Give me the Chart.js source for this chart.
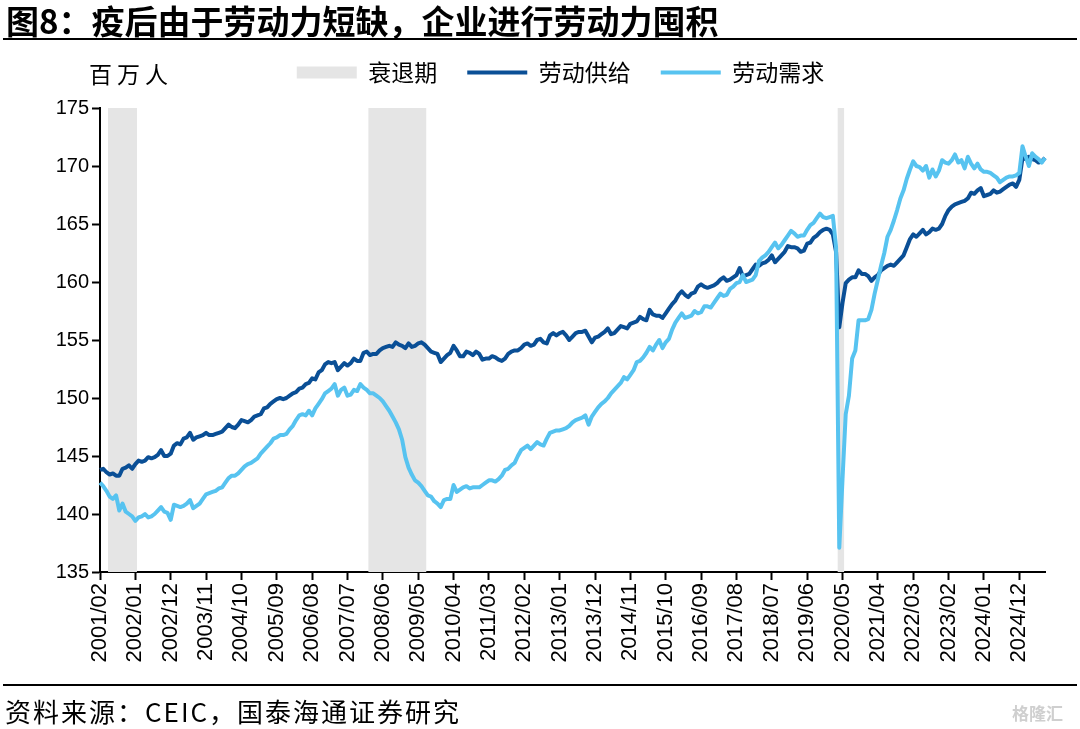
<!DOCTYPE html>
<html>
<head>
<meta charset="utf-8">
<script src="https://cdn.jsdelivr.net/npm/chart.js@4.4.1/dist/chart.umd.min.js"></script>
<style>
  html, body { margin: 0; padding: 0; background: #fff; }
  body { width: 1080px; height: 729px; position: relative; overflow: hidden; }
  #chart { position: absolute; left: 0; top: 0; }
  .title { position: absolute; left: 6px; top: 0px; font: 700 33px "Noto Sans CJK SC"; line-height: 40px; color: #000; white-space: nowrap; }
  .rule { position: absolute; left: 3px; width: 1074px; height: 2px; background: #000; }
  .unit { position: absolute; left: 89px; top: 58px; font: 23px "Noto Sans CJK SC"; letter-spacing: 5px; line-height: 30px; color: #000; }
  .source { position: absolute; left: 5px; top: 694px; font: 26px "Noto Sans CJK SC"; letter-spacing: 2px; line-height: 34px; color: #000; white-space: nowrap; }
  .mark { position: absolute; left: 1012px; top: 700px; font: 700 17px "Noto Sans CJK SC"; color: #cfcfcf; }
</style>
</head>
<body>
<canvas id="chart" width="1080" height="729"></canvas>
<div class="title">图8：疫后由于劳动力短缺，企业进行劳动力囤积</div>
<div class="rule" style="top:38px"></div>
<div class="unit">百万人</div>
<div class="rule" style="top:684px"></div>
<div class="source">资料来源：CEIC，国泰海通证券研究</div>
<div class="mark">格隆汇</div>
<script>
// 月度数据，2001/02 起
const startMonth = '2001/02';

// 劳动供给（百万人）
const supply = [
  143.8, 143.9, 143.6, 143.4, 143.5, 143.3, 143.3, 143.9, 144.0, 144.2, 143.9,
  144.3, 144.6, 144.5, 144.6, 144.9, 144.8, 144.9, 145.1, 145.5, 145.0, 145.0, 145.2,
  145.9, 146.1, 146.0, 146.5, 146.6, 147.0, 146.4, 146.6, 146.7, 146.8, 147.0, 146.8,
  146.8, 146.9, 147.0, 147.1, 147.4, 147.7, 147.5, 147.4, 147.7, 148.1, 148.0, 147.9,
  148.1, 148.4, 148.5, 148.6, 149.1, 149.2, 149.5, 149.7, 149.9, 150.0, 149.9, 150.0,
  150.2, 150.4, 150.5, 150.8, 150.9, 151.2, 151.3, 151.7, 151.6, 152.2, 152.4, 152.9,
  153.1, 153.0, 153.1, 152.4, 152.7, 153.0, 152.8, 153.0, 153.4, 153.2, 153.2, 153.9,
  154.0, 153.7, 153.8, 153.8, 154.1, 154.3, 154.4, 154.5, 154.4, 154.8, 154.6, 154.5,
  154.3, 154.7, 154.4, 154.5, 154.7, 154.8, 154.6, 154.3, 154.0, 153.9, 153.8, 153.1,
  153.4, 153.7, 153.9, 154.5, 154.1, 153.6, 153.6, 154.0, 153.9, 153.7, 154.0, 153.8,
  153.3, 153.4, 153.4, 153.6, 153.5, 153.3, 153.2, 153.4, 153.8, 154.0, 154.1, 154.1,
  154.3, 154.6, 154.7, 154.5, 154.6, 155.0, 155.1, 154.8, 154.7, 155.4, 155.6, 155.4,
  155.6, 155.7, 155.4, 155.0, 155.3, 155.6, 155.7, 155.7, 155.8, 155.3, 154.8, 155.2,
  155.3, 155.5, 155.7, 156.0, 155.5, 155.6, 155.9, 156.2, 156.1, 156.0, 156.4, 156.5,
  156.6, 157.0, 156.8, 156.7, 157.6, 157.2, 157.1, 157.1, 156.9, 157.3, 157.7, 158.1,
  158.4, 158.9, 159.2, 158.9, 158.7, 159.0, 159.1, 159.6, 159.8, 159.6, 159.5, 159.6,
  159.7, 159.9, 160.2, 160.4, 160.1, 160.2, 160.4, 160.6, 161.2, 160.5, 160.6, 160.7,
  161.1, 161.5, 161.4, 161.6, 161.7, 161.9, 162.3, 161.7, 162.0, 162.3, 162.6, 163.1,
  163.0, 163.0, 162.9, 162.6, 162.7, 163.3, 163.4, 163.8, 164.0, 164.3, 164.5, 164.6,
  164.5, 164.1, 162.6, 156.1, 158.2, 159.9, 160.2, 160.4, 160.4, 161.0, 160.7, 160.7,
  160.5, 160.1, 160.4, 160.6, 161.0, 161.2, 161.4, 161.5, 161.4, 161.7, 162.0, 162.3,
  163.0, 163.7, 164.1, 163.9, 164.2, 164.5, 164.1, 164.3, 164.6, 164.5, 164.6, 165.0,
  165.7, 166.2, 166.5, 166.7, 166.8, 166.9, 167.0, 167.2, 167.7, 167.6, 167.9, 168.1,
  167.4, 167.5, 167.6, 167.9, 167.7, 167.8, 168.0, 168.2, 168.4, 168.5, 168.2, 168.8,
  170.7, 170.6, 170.8, 170.6, 170.5, 170.3, 170.4, 170.7
];

// 劳动需求（百万人）
const demand = [
  142.7, 142.4, 142.0, 141.5, 141.3, 141.6, 140.3, 140.9, 140.2, 140.0, 139.8,
  139.4, 139.7, 139.8, 140.0, 139.7, 139.8, 140.0, 140.3, 140.6, 140.2, 140.1, 139.5,
  140.8, 140.7, 140.6, 140.7, 140.9, 141.2, 140.5, 140.7, 140.9, 141.3, 141.7, 141.8,
  141.9, 142.0, 142.2, 142.3, 142.7, 143.1, 143.3, 143.3, 143.5, 143.8, 144.1, 144.3,
  144.4, 144.6, 144.8, 145.2, 145.5, 145.8, 146.1, 146.5, 146.6, 146.8, 146.8, 146.9,
  147.3, 147.6, 148.1, 148.5, 148.6, 148.5, 148.9, 148.5, 149.1, 149.5, 149.9, 150.4,
  150.6, 150.8, 151.2, 150.2, 150.7, 150.9, 150.2, 150.3, 150.7, 150.6, 151.2, 150.9,
  150.7, 150.4, 150.4, 150.2, 150.0, 149.7, 149.3, 148.9, 148.4, 147.9, 147.3, 146.4,
  144.9, 144.0, 143.4, 142.9, 142.7, 142.4, 142.0, 141.6, 141.5, 141.1, 140.9, 140.6,
  141.2, 141.3, 141.3, 142.5, 141.9, 142.1, 142.3, 142.4, 142.2, 142.3, 142.3, 142.3,
  142.5, 142.7, 142.9, 142.9, 142.8, 143.0, 143.3, 143.8, 143.9, 144.2, 144.4, 145.0,
  145.5, 145.7, 145.9, 145.6, 145.9, 146.2, 146.0, 145.9, 146.5, 147.0, 147.1, 147.2,
  147.2, 147.3, 147.4, 147.6, 147.9, 148.1, 148.2, 148.3, 148.5, 147.7, 148.4, 148.8,
  149.2, 149.5, 149.7, 150.0, 150.4, 150.7, 151.0, 151.3, 151.8, 151.6, 152.0, 152.4,
  153.1, 153.2, 153.5, 153.9, 154.4, 154.1, 154.6, 155.0, 154.3, 154.8, 155.1, 155.9,
  156.5, 156.9, 157.3, 156.9, 157.0, 157.1, 157.5, 157.3, 157.4, 157.9, 157.9, 157.8,
  158.2, 158.6, 159.0, 158.8, 158.9, 159.4, 159.6, 159.9, 160.0, 160.6, 160.0, 160.1,
  160.2, 160.6, 161.8, 162.1, 162.3, 162.6, 163.0, 163.4, 162.9, 163.2, 163.6, 164.0,
  164.4, 164.2, 163.9, 164.0, 164.0, 164.5, 164.9, 165.1, 165.5, 165.9, 165.6, 165.5,
  165.6, 165.7, 163.0, 137.1, 143.0, 148.6, 150.2, 153.4, 154.1, 156.7, 156.7, 156.7,
  156.8, 157.6, 159.0, 160.2, 161.4, 162.5, 163.9, 164.5, 165.3, 166.2, 167.2, 167.9,
  168.9, 169.7, 170.4, 170.0, 169.9, 169.6, 170.0, 169.0, 169.7, 169.1, 169.6, 170.5,
  170.3, 170.2, 170.5, 171.0, 170.3, 170.5, 169.8, 170.8, 170.2, 169.8, 170.2, 169.7,
  169.5, 169.5, 169.4, 169.2, 169.0, 168.6, 168.8, 169.0, 169.1, 169.1, 169.2, 169.4,
  171.7, 170.8, 170.0, 171.1, 170.8, 170.6, 170.3, 170.7
];

// 衰退期（阴影起止月份）
const recessions = [
  ['2001/05', '2002/01'],
  ['2008/02', '2009/07'],
  ['2020/04', '2020/05']
];

// x轴显示的刻度
const tickLabels = [
  '2001/02', '2002/01', '2002/12', '2003/11', '2004/10', '2005/09', '2006/08',
  '2007/07', '2008/06', '2009/05', '2010/04', '2011/03', '2012/02', '2013/01',
  '2013/12', '2014/11', '2015/10', '2016/09', '2017/08', '2018/07', '2019/06',
  '2020/05', '2021/04', '2022/03', '2023/02', '2024/01', '2024/12'
];

const darkBlue = '#0A4F96';
const lightBlue = '#57C3F0';
const shadeGray = '#E5E5E5';

// 月份标签
const labels = [];
let yr = parseInt(startMonth.slice(0, 4)), mo = parseInt(startMonth.slice(5));
for (let i = 0; i < supply.length; i++) {
    labels.push(yr + '/' + String(mo).padStart(2, '0'));
    mo++;
    if (mo > 12) { mo = 1; yr++; }
}

// 衰退期标记：1 = 衰退
const recFlag = labels.map(l => recessions.some(r => l >= r[0] && l <= r[1]) ? 1 : 0);

// nudge the legend row up and to the right, chart area stays put
const legendShift = {
    id: 'legendShift',
    afterLayout(chart) {
        const lg = chart.legend;
        if (lg) {
            lg.top -= 14;
            lg.bottom -= 14;
            lg.left += 18;
            lg.right += 18;
        }
    }
};

new Chart(document.getElementById('chart'), {
    type: 'line',
    data: {
        labels: labels,
        datasets: [
            {
                label: '衰退期',
                data: recFlag,
                yAxisID: 'yRec',
                stepped: 'middle',
                fill: 'origin',
                backgroundColor: shadeGray,
                borderColor: 'rgba(0,0,0,0)',
                borderWidth: 0,
                pointRadius: 0,
                order: 3
            },
            {
                label: '劳动供给',
                data: supply,
                borderColor: darkBlue,
                backgroundColor: darkBlue,
                borderWidth: 4,
                borderJoinStyle: 'round',
                pointRadius: 0,
                tension: 0,
                order: 2
            },
            {
                label: '劳动需求',
                data: demand,
                borderColor: lightBlue,
                backgroundColor: lightBlue,
                borderWidth: 4,
                borderJoinStyle: 'round',
                pointRadius: 0,
                tension: 0,
                order: 1
            }
        ]
    },
    options: {
        responsive: false,
        animation: false,
        layout: { padding: { left: 40, right: 35, top: 45, bottom: 57 } },
        plugins: {
            legend: {
                position: 'top',
                align: 'center',
                labels: {
                    usePointStyle: true,
                    pointStyleWidth: 60,
                    boxHeight: 12,
                    padding: 30,
                    color: '#000',
                    font: { family: 'Noto Sans CJK SC', size: 23 },
                    generateLabels: function (chart) {
                        return chart.data.datasets.map((ds, i) => ({
                            text: ds.label,
                            datasetIndex: i,
                            fontColor: '#000',
                            hidden: false,
                            pointStyle: i === 0 ? 'rect' : 'line',
                            fillStyle: i === 0 ? shadeGray : ds.borderColor,
                            strokeStyle: ds.borderColor,
                            lineWidth: i === 0 ? 0 : 4
                        }));
                    }
                }
            },
            tooltip: { enabled: false }
        },
        scales: {
            x: {
                offset: false,
                ticks: {
                    autoSkip: false,
                    maxRotation: 90,
                    minRotation: 90,
                    padding: 3,
                    color: '#000',
                    font: { family: 'Liberation Sans', size: 22 }
                },
                grid: { drawOnChartArea: false, tickLength: 8, tickWidth: 2, tickColor: '#000' },
                border: { color: '#000', width: 2 },
                afterBuildTicks: function (scale) {
                    scale.ticks = scale.ticks.filter(t => tickLabels.includes(labels[t.value]));
                },
                afterFit: function (scale) { scale.height = 100; }
            },
            y: {
                min: 135,
                max: 175,
                ticks: {
                    stepSize: 5,
                    padding: 3,
                    color: '#000',
                    font: { family: 'Liberation Sans', size: 20 }
                },
                grid: { drawOnChartArea: false, tickLength: 8, tickWidth: 2, tickColor: '#000' },
                border: { color: '#000', width: 2 },
                afterFit: function (scale) { scale.width = 60; }
            },
            yRec: {
                display: false,
                min: 0,
                max: 1
            }
        }
    },
    plugins: [legendShift]
});
</script>
</body>
</html>
